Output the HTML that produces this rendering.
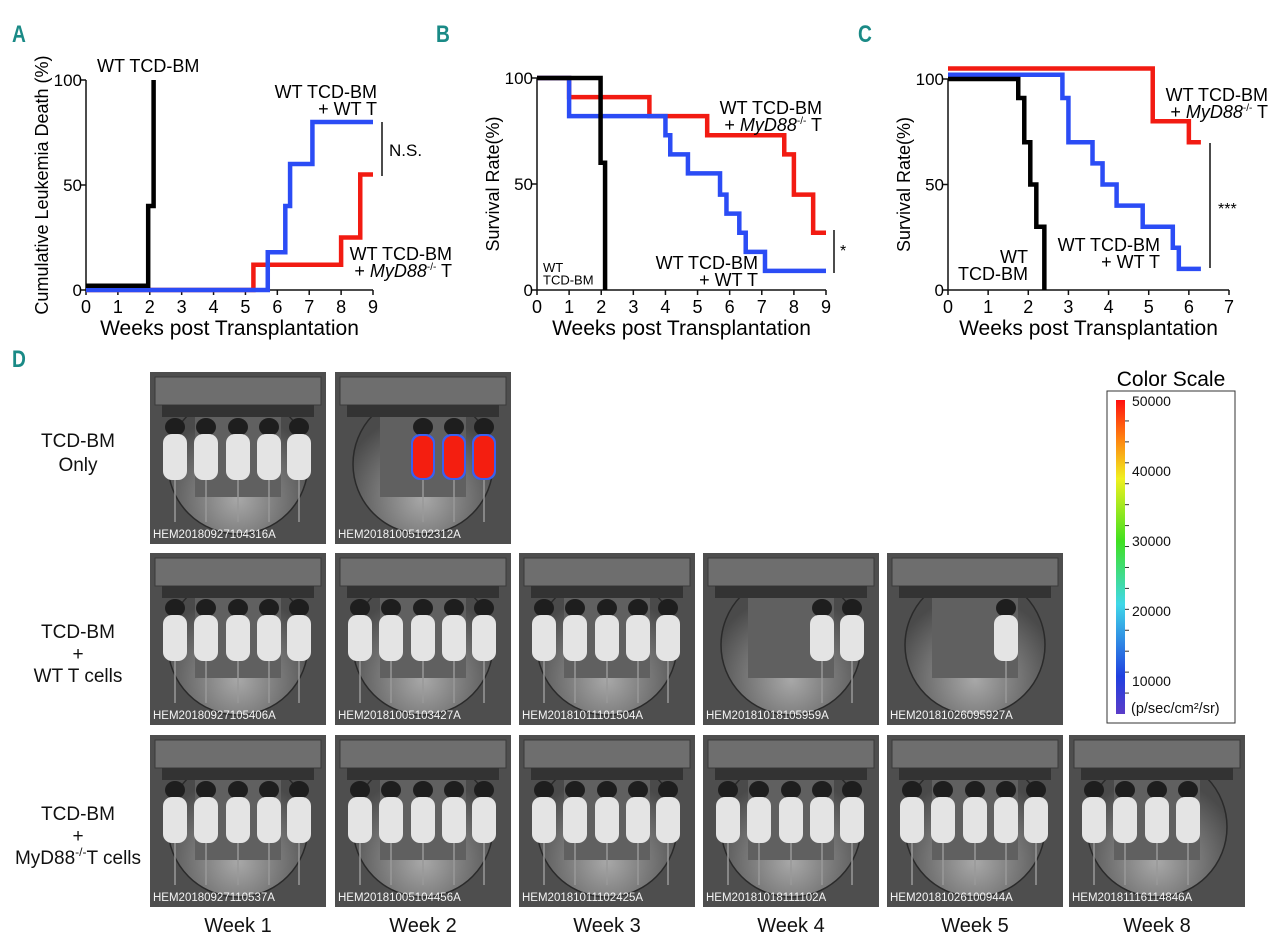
<!DOCTYPE html>
<html><head><meta charset="utf-8"><style>
body{margin:0;background:#fff;}
svg{display:block;font-family:"Liberation Sans",sans-serif;}
</style></head><body>
<svg id="fig" width="1280" height="941" viewBox="0 0 1280 941">
<defs>
<linearGradient id="cbar" x1="0" y1="1" x2="0" y2="0">
<stop offset="0" stop-color="#5a3cc8"/><stop offset="0.12" stop-color="#2040e0"/><stop offset="0.35" stop-color="#40d8e8"/><stop offset="0.55" stop-color="#40e020"/><stop offset="0.75" stop-color="#f0f020"/><stop offset="0.88" stop-color="#ff8010"/><stop offset="1" stop-color="#ff1010"/>
</linearGradient>
<radialGradient id="floor" cx="0.5" cy="0.75" r="0.6"><stop offset="0" stop-color="#a8a8a8"/><stop offset="1" stop-color="#4a4a4a"/></radialGradient>
</defs>
<g id="charts"></g>
<g id="tiles"></g>
<g font-weight="bold" fill="#1a8a86" font-size="24">
<text x="12" y="42" transform="translate(12,42) scale(0.8,1) translate(-12,-42)">A</text>
<text x="436" y="42" transform="translate(436,42) scale(0.8,1) translate(-436,-42)">B</text>
<text x="858" y="42" transform="translate(858,42) scale(0.8,1) translate(-858,-42)">C</text>
<text x="12" y="367" transform="translate(12,367) scale(0.8,1) translate(-12,-367)">D</text>
</g>
<g font-size="19" text-anchor="middle" fill="#111">
<text x="78" y="447"><tspan x="78">TCD-BM</tspan><tspan x="78" dy="24">Only</tspan></text>
<text x="78" y="638"><tspan x="78">TCD-BM</tspan><tspan x="78" dy="22">+</tspan><tspan x="78" dy="22">WT T cells</tspan></text>
<text x="78" y="820"><tspan x="78">TCD-BM</tspan><tspan x="78" dy="22">+</tspan><tspan x="78" dy="22">MyD88<tspan font-size="12" dy="-8">-/-</tspan><tspan dy="8">T cells</tspan></tspan></text>
</g>
<g font-size="20" text-anchor="middle" fill="#111">
<text x="238" y="932">Week 1</text>
<text x="423" y="932">Week 2</text>
<text x="607" y="932">Week 3</text>
<text x="791" y="932">Week 4</text>
<text x="975" y="932">Week 5</text>
<text x="1157" y="932">Week 8</text>
</g>
<g id="cscale">
<text x="1171" y="386" font-size="21" text-anchor="middle">Color Scale</text>
<rect x="1107" y="391" width="128" height="332" fill="#fff" stroke="#333" stroke-width="1"/>
<rect x="1116" y="400" width="9" height="314" fill="url(#cbar)"/>
<g font-size="14" fill="#111">
<text x="1132" y="406">50000</text>
<text x="1132" y="476">40000</text>
<text x="1132" y="546">30000</text>
<text x="1132" y="616">20000</text>
<text x="1132" y="686">10000</text>
<text x="1131" y="713" font-size="14.5">(p/sec/cm²/sr)</text>
</g>
</g>
</svg>
<script>
// ---- chart data ----
const aBlackT=[0,1.95,2.12], aBlackV=[2,40,100];
const aBlueT=[0,5.7,6.25,6.4,7.1,9], aBlueV=[0,18,40,60,80,80];
const aRedT=[0,5.25,8,8.6,9], aRedV=[0,12,25,55,55];
const bBlackT=[0,1.98,2.12], bBlackV=[100,60,0];
const bRedT=[0,1,3.5,5.3,7.7,8,8.6,9], bRedV=[100,91,82,73,64,45,27,27];
const bBlueT=[0,1,4,4.15,4.7,5.7,5.9,6.3,6.5,7.1,9], bBlueV=[100,82,73,64,55,45,36,27,18,9,9];
const cRedT=[0,5.1,6,6.3], cRedV=[105,80,70,70];
const cBlueT=[0,2.85,3,3.6,3.85,4.2,4.85,5.6,5.75,6.3], cBlueV=[102,91,70,60,50,40,30,20,10,10];
const cBlackT=[0,1.75,1.9,2.05,2.2,2.4], cBlackV=[100,91,70,50,30,0];
const yTicks=[0,50,100];
const NS='http://www.w3.org/2000/svg';
function mk(tag,attrs,parent){const e=document.createElementNS(NS,tag);for(const k in attrs)e.setAttribute(k,attrs[k]);parent.appendChild(e);return e;}
const cs=document.getElementById('cscale');
for(let i=1;i<15;i++){const yy=400+314*i/15;mk('line',{x1:1125,x2:1129,y1:yy,y2:yy,stroke:'#333','stroke-width':1},cs);}
const charts=document.getElementById('charts');
function chart(id,x0,x1,xmax,yt,yb,ytitle,series){
  const g=mk('g',{},charts);
  
  
  const sx=v=>x0+(x1-x0)*v/xmax, sy=v=>yb-(yb-yt)*v/100;
  const ax=mk('path',{d:`M${x0},${yt} V${yb} H${x1}`,fill:'none',stroke:'#111','stroke-width':1.5},g);
  
  
  for(let i=0;i<=xmax;i++){
    mk('line',{x1:sx(i),x2:sx(i),y1:yb,y2:yb+5,stroke:'#111','stroke-width':1.5},g);
    const t=mk('text',{x:sx(i),y:yb+23,'font-size':18,'text-anchor':'middle'},g);t.textContent=i;
    
    
  }
  yTicks.forEach(v=>{
    mk('line',{x1:x0-5,x2:x0,y1:sy(v),y2:sy(v),stroke:'#111','stroke-width':1.5},g);
    const t=mk('text',{x:x0-4,y:sy(v)+6,'font-size':17,'text-anchor':'end'},g);t.textContent=v;
    
    
  });
  const xt=mk('text',{x:(x0+x1)/2,y:yb+45,'font-size':21,'text-anchor':'middle'},g);xt.textContent='Weeks post Transplantation';
  
  
  const ytx=mk('text',{x:0,y:0,'font-size':18,'text-anchor':'middle',transform:`translate(${x0-38},${(yt+yb)/2}) rotate(-90)`},g);ytx.textContent=ytitle;
  
  
  series.forEach(s=>{
    const T=s[0],V=s[1];let d=`M${sx(T[0])},${sy(V[0])}`;
    for(let i=1;i<T.length;i++){d+=` H${sx(T[i])} V${sy(V[i])}`;}
    const p=mk('path',{d,fill:'none',stroke:s[2],'stroke-width':4.5,'stroke-linejoin':'miter'},g);
    
    
  });
  return g;
}
const gA=chart('chart-a',86,373,9,80,290,'Cumulative Leukemia Death (%)',[[aRedT,aRedV,'#f21b12','line-myd88-t'],[aBlueT,aBlueV,'#2b4cf5','line-wt-t'],[aBlackT,aBlackV,'#000','line-wt-tcd-bm']]);
const gB=chart('chart-b',537,826,9,78,290,'Survival Rate(%)',[[bRedT,bRedV,'#f21b12','line-myd88-t'],[bBlueT,bBlueV,'#2b4cf5','line-wt-t'],[bBlackT,bBlackV,'#000','line-wt-tcd-bm']]);
const gC=chart('chart-c',948,1229,7,79,290,'Survival Rate(%)',[[cRedT,cRedV,'#f21b12','line-myd88-t'],[cBlueT,cBlueV,'#2b4cf5','line-wt-t'],[cBlackT,cBlackV,'#000','line-wt-tcd-bm']]);
function txt(g,x,y,lines,size,anchor,name){
  const t=mk('text',{x,y,'font-size':size,'text-anchor':anchor||'start'},g);
  
  
  lines.forEach((l,i)=>{const s=mk('tspan',{x,dy:i?size*0.95:0},t);s.innerHTML=l;});
}
const myd='+ <tspan font-style="italic">MyD88</tspan><tspan font-size="10" dy="-7">-/-</tspan><tspan dy="7"> T</tspan>';
txt(gA,97,72,['WT TCD-BM'],18,'start','annotation-wt-tcd-bm');
txt(gA,377,98,['WT TCD-BM','+ WT T'],18,'end','annotation-wt-t');
txt(gA,452,260,['WT TCD-BM'],18,'end','annotation-myd88');
txt(gA,452,277,[myd],18,'end','annotation-myd88-2');
mk('line',{x1:382,x2:382,y1:122,y2:176,stroke:'#111','stroke-width':1.5},gA);
txt(gA,389,156,['N.S.'],17,'start','significance-ns');
txt(gB,822,114,['WT TCD-BM'],18,'end','annotation-myd88');
txt(gB,822,131,[myd],18,'end','annotation-myd88-2');
txt(gB,758,269,['WT TCD-BM','+ WT T'],18,'end','annotation-wt-t');
txt(gB,543,272,['WT','TCD-BM'],13,'start','annotation-wt-tcd-bm');
mk('line',{x1:834,x2:834,y1:230,y2:273,stroke:'#111','stroke-width':1.5},gB);
txt(gB,840,256,['*'],16,'start','significance-star');
txt(gC,1268,101,['WT TCD-BM'],18,'end','annotation-myd88');
txt(gC,1268,118,[myd],18,'end','annotation-myd88-2');
txt(gC,1160,251,['WT TCD-BM','+ WT T'],18,'end','annotation-wt-t');
txt(gC,1028,263,['WT','TCD-BM'],18,'end','annotation-wt-tcd-bm');
mk('line',{x1:1210,x2:1210,y1:143,y2:268,stroke:'#111','stroke-width':1.5},gC);
txt(gC,1218,214,['***'],16,'start','significance-stars');
// ---- image tiles ----
const tiles=document.getElementById('tiles');
const colX=[150,335,519,703,887,1069], rowY=[372,553,735];
const tileDefs=[
 [0,0,'HEM20180927104316A',[0,1,2,3,4],[]],
 [0,1,'HEM20181005102312A',[2,3,4],[2,3,4]],
 [1,0,'HEM20180927105406A',[0,1,2,3,4],[]],
 [1,1,'HEM20181005103427A',[0,1,2,3,4],[]],
 [1,2,'HEM20181011101504A',[0,1,2,3,4],[]],
 [1,3,'HEM20181018105959A',[3,4],[]],
 [1,4,'HEM20181026095927A',[3],[]],
 [2,0,'HEM20180927110537A',[0,1,2,3,4],[]],
 [2,1,'HEM20181005104456A',[0,1,2,3,4],[]],
 [2,2,'HEM20181011102425A',[0,1,2,3,4],[]],
 [2,3,'HEM20181018111102A',[0,1,2,3,4],[]],
 [2,4,'HEM20181026100944A',[0,1,2,3,4],[]],
 [2,5,'HEM20181116114846A',[0,1,2,3],[]]];
const mouseX=[25,56,88,119,149];
tileDefs.forEach(td=>{
  const x=colX[td[1]],y=rowY[td[0]],W=176,H=172;
  const g=mk('g',{transform:`translate(${x},${y})`},tiles);
  
  
  mk('rect',{x:0,y:0,width:W,height:H,fill:'#4e4e4e'},g);
  mk('circle',{cx:88,cy:92,r:70,fill:'url(#floor)',stroke:'#2a2a2a','stroke-width':1.5},g);
  mk('rect',{x:45,y:45,width:86,height:80,fill:'#606060'},g);
  mk('rect',{x:5,y:5,width:166,height:28,fill:'#6e6e6e',stroke:'#3a3a3a'},g);
  mk('rect',{x:12,y:33,width:152,height:12,fill:'#333'},g);
  td[3].forEach(i=>{
    const mx=mouseX[i];
    mk('ellipse',{cx:mx,cy:55,rx:10,ry:9,fill:'#1e1e1e'},g);
    const red=td[4].includes(i);
    mk('rect',{x:mx-12,y:62,width:24,height:46,rx:9,fill:red?'#3a60f0':'#e4e4e4'},g);
    if(red) mk('rect',{x:mx-10,y:64,width:20,height:42,rx:8,fill:'#f41e10'},g);
    mk('line',{x1:mx,x2:mx,y1:108,y2:150,stroke:'#999','stroke-width':1.5},g);
  });
  const t=mk('text',{x:3,y:H-6,'font-size':11.5,fill:'#f4f4f4'},g);t.textContent=td[2];
  
  
});
</script>
</body></html>
